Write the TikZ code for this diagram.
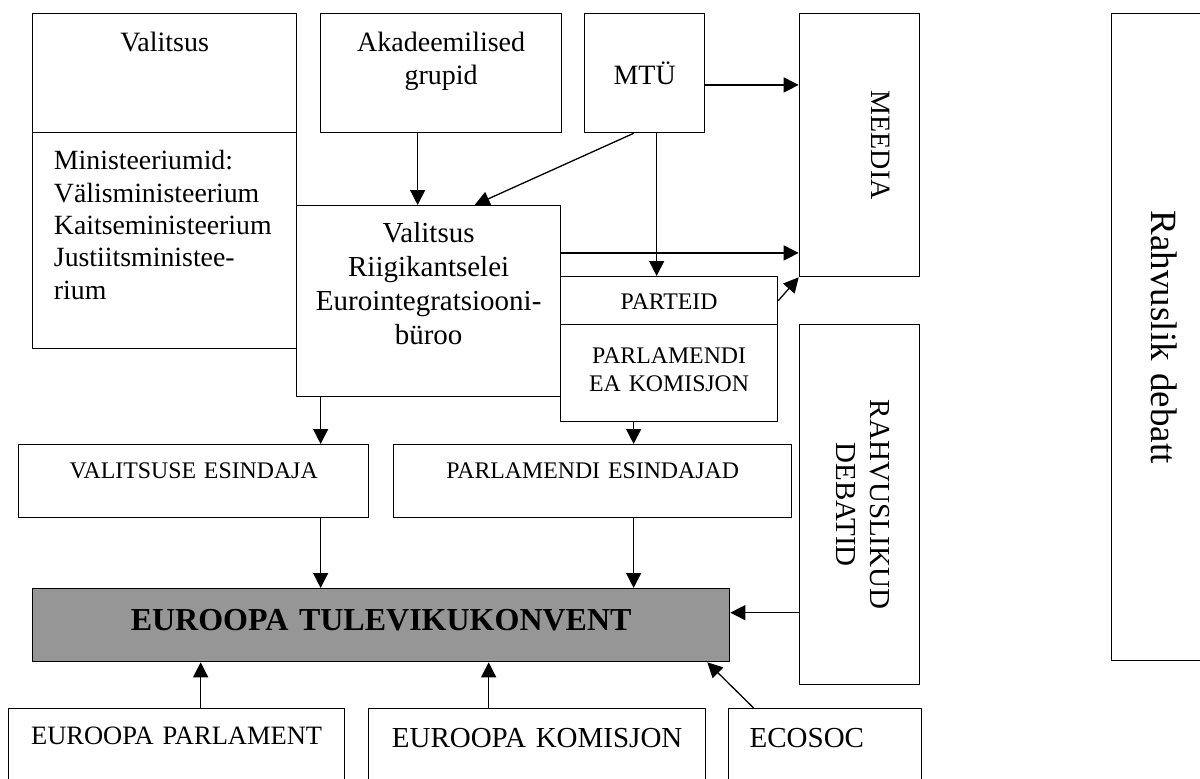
\documentclass[tikz,border=0pt]{standalone}
\usepackage{fontspec}
\setmainfont{Liberation Serif}
\usepackage{xcolor}
\usepackage{tikz}
\usetikzlibrary{arrows.meta}
\definecolor{konv}{HTML}{969696}
\tikzset{box/.style={draw, line width=0.65pt, inner sep=0pt, align=center, anchor=north west},
         big/.style={font=\fontsize{14}{16.5}\selectfont},
         mid/.style={font=\fontsize{14.5}{17}\selectfont},
         caps/.style={font=\fontsize{11.9}{13.7}\selectfont},
         arr/.style={-{Triangle[length=7.5pt, width=7.5pt]}, line width=0.65pt}}

\begin{document}
\begin{tikzpicture}[x=0.5pt, y=-0.5pt]
\useasboundingbox (0,0) rectangle (1200,778);
\clip (0,0) rectangle (1200,778);
\node[box, big, text width=132pt, text height=18.85pt, text depth=40.65pt] (valitsus) at (32,13) {Valitsus};
\node[box, font=\fontsize{13.9}{16.15}\selectfont, align=left, inner xsep=10.65pt, text width=110.7pt, text height=18.65pt, text depth=89.35pt] (minist) at (32,132) {Ministeeriumid:\\Välisministeerium\\Kaitseministeerium\\Justiitsministee-\\rium};
\node[box, big, text width=120.5pt, text height=19pt, text depth=40.5pt] (akad) at (320,13) {Akadeemilised\\grupid};
\node[box, big, text width=60pt, text height=35.65pt, text depth=23.85pt] (mtu) at (584,13) {MTÜ};
\node[box, big, rotate=-90, text width=131.5pt, text height=24.15pt, text depth=35.85pt] (meedia) at (920,13) {MEEDIA};
\node[box, mid, text width=132pt, text height=18.35pt, text depth=77.15pt] (valriigi) at (296,205) {Valitsus\\Riigikantselei\\Eurointegratsiooni-\\büroo};
\node[box, caps, text width=108.5pt, text height=16.65pt, text depth=7.35pt] (parteid) at (560,276) {PARTEID};
\node[box, caps, text width=108.5pt, text height=19.65pt, text depth=28.85pt] (parlea) at (560,324) {PARLAMENDI\\EA KOMISJON};
\node[box, font=\fontsize{14.5}{16.8}\selectfont, rotate=-90, text width=180pt, text height=24.5pt, text depth=35.5pt] (rahvuslikud) at (920,324) {RAHVUSLIKUD\\DEBATID};
\node[box, font=\fontsize{18.5}{21}\selectfont, rotate=-90, text width=323.5pt, text height=26.5pt, text depth=20pt] (rahvdebatt) at (1205,13) {Rahvuslik debatt};
\node[box, caps, text width=175pt, text height=17.15pt, text depth=19.35pt] (valesind) at (18,444) {VALITSUSE ESINDAJA};
\node[box, caps, text width=199pt, text height=17.15pt, text depth=19.35pt] (parlesind) at (393,444) {PARLAMENDI ESINDAJAD};
\node[box, fill=konv, font=\fontsize{16}{19}\selectfont\bfseries, text width=348.5pt, text height=21pt, text depth=15.5pt] (konvent) at (32,588) {EUROOPA TULEVIKUKONVENT};
\node[box, font=\fontsize{13.25}{15}\selectfont, text width=168pt, text height=18pt, text depth=28pt] (eurparl) at (8,708) {EUROOPA PARLAMENT};
\node[box, mid, text width=168.5pt, text height=19.35pt, text depth=26.65pt] (eurkom) at (368,708) {EUROOPA KOMISJON};
\node[box, mid, align=left, inner xsep=10.5pt, text width=75.5pt, text height=19.35pt, text depth=26.65pt] (ecosoc) at (728,708) {ECOSOC};
% rotated boxes: south is the left side, south east the lower left corner
\draw[arr] ([xshift=-11.75pt]akad.south) -- ([xshift=-11.75pt]akad.south |- valriigi.north);
\draw[arr] ([xshift=-5.5pt]mtu.south) -- ([xshift=23pt]valriigi.north);
\draw[arr] ([yshift=-5.9pt]mtu.east) -- ([yshift=-5.9pt]mtu.east -| meedia.south);
\draw[arr] ([xshift=6pt]mtu.south) -- ([xshift=6pt]mtu.south |- parteid.north);
\draw[arr] ([yshift=24.1pt]valriigi.east) -- ([yshift=24.1pt]valriigi.east -| meedia.south);
\draw[arr] (parteid.east) -- (meedia.south east);
\draw[arr] ([xshift=-54pt]valriigi.south) -- ([xshift=-54pt]valriigi.south |- valesind.north);
\draw[arr] ([xshift=-17.75pt]parlea.south) -- ([xshift=-17.75pt]parlea.south |- parlesind.north);
\draw[arr] ([xshift=63.5pt]valesind.south) -- ([xshift=63.5pt]valesind.south |- konvent.north);
\draw[arr] ([xshift=20.5pt]parlesind.south) -- ([xshift=20.5pt]parlesind.south |- konvent.north);
\draw[arr] ([yshift=-54pt]rahvuslikud.south) -- ([yshift=-54pt]rahvuslikud.south -| konvent.east);
\draw[arr] ([xshift=12pt]eurparl.north) -- ([xshift=12pt]eurparl.north |- konvent.south);
\draw[arr] ([xshift=-24.25pt]eurkom.north) -- ([xshift=-24.25pt]eurkom.north |- konvent.south);
\draw[arr] ([xshift=-35.75pt]ecosoc.north) -- ([xshift=-11.5pt]konvent.south east);
\end{tikzpicture}
\end{document}
